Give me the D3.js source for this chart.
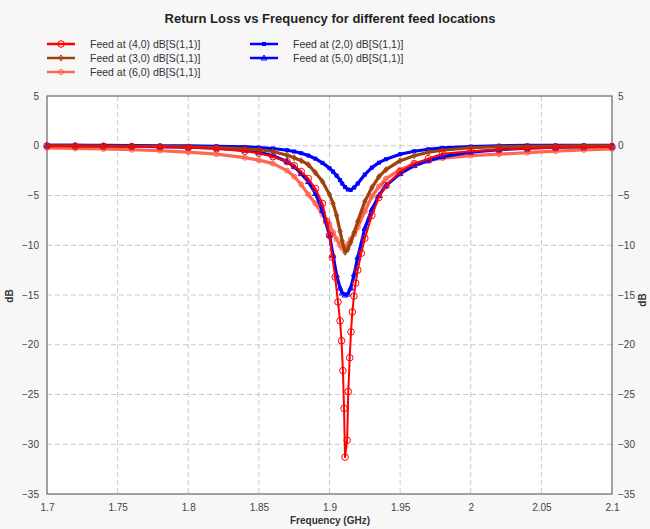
<!DOCTYPE html>
<html>
<head>
<meta charset="utf-8">
<script src="https://cdn.jsdelivr.net/npm/d3@7"></script>
<style>
  body { margin: 0; background: #f7f7f7; font-family: "Liberation Sans", Arial, sans-serif; }
</style>
</head>
<body>
<div id="chart"></div>
<script>
// shared frequency grid (GHz) for the broad curves
var freqGHz = [1.70, 1.72, 1.74, 1.76, 1.78, 1.80, 1.82, 1.84, 1.85, 1.86, 1.87, 1.875, 1.88, 1.885, 1.89, 1.895,
  1.90, 1.9025, 1.905, 1.9075, 1.909, 1.911, 1.913, 1.915, 1.9175, 1.92, 1.925, 1.93, 1.935, 1.94,
  1.95, 1.96, 1.97, 1.98, 2.00, 2.02, 2.04, 2.06, 2.08, 2.10];

var dbFeed20 = [0.05, 0.05, 0.04, 0.02, 0.0, -0.02, -0.05, -0.12, -0.18, -0.28, -0.45, -0.58, -0.75, -0.98, -1.3, -1.72,
  -2.25, -2.6, -3.0, -3.45, -3.8, -4.15, -4.4, -4.45, -4.2, -3.8, -2.9, -2.2, -1.7, -1.35,
  -0.85, -0.55, -0.35, -0.22, -0.08, 0.0, 0.03, 0.04, 0.05, 0.05];

var dbFeed30 = [0.0, -0.02, -0.03, -0.05, -0.08, -0.12, -0.18, -0.3, -0.4, -0.58, -0.95, -1.2, -1.5, -1.9, -2.7, -3.6,
  -4.9, -5.8, -7.0, -8.6, -9.6, -10.7, -10.4, -9.7, -8.7, -7.6, -5.6, -4.2, -3.1, -2.4,
  -1.5, -1.0, -0.65, -0.45, -0.2, -0.1, -0.06, -0.04, -0.02, -0.02];

var dbFeed60 = [-0.22, -0.27, -0.32, -0.4, -0.5, -0.65, -0.85, -1.2, -1.45, -1.8, -2.5, -3.1, -3.9, -4.9, -5.8, -6.9,
  -7.9, -8.7, -9.4, -10.0, -10.3, -10.2, -9.9, -9.4, -8.9, -8.2, -6.6, -5.1, -4.1, -3.3,
  -2.4, -1.8, -1.5, -1.25, -1.0, -0.85, -0.7, -0.55, -0.42, -0.32];

var dbFeed50 = [0.05, 0.03, 0.0, -0.03, -0.08, -0.15, -0.25, -0.45, -0.65, -1.0, -1.6, -2.1, -2.8, -3.6, -4.8, -6.5,
  -9.0, -11.0, -13.0, -14.3, -14.8, -15.0, -14.9, -14.3, -12.9, -11.2, -8.3, -6.4, -5.0, -4.0,
  -2.8, -2.0, -1.5, -1.1, -0.65, -0.4, -0.25, -0.15, -0.1, -0.05];

// feed (4,0) has a very narrow dip, so its own frequency list
var freqFeed40 = [1.70, 1.72, 1.74, 1.76, 1.78, 1.80, 1.82, 1.84, 1.85, 1.86, 1.87, 1.875, 1.88, 1.885, 1.89, 1.895,
  1.898, 1.90, 1.902, 1.904, 1.906, 1.9075, 1.9085, 1.9095, 1.9103, 1.911, 1.9125, 1.9133, 1.9143, 1.9152,
  1.9162, 1.9173, 1.9185, 1.92, 1.9225, 1.925, 1.93, 1.935, 1.94, 1.95, 1.96, 1.97, 1.98, 2.00, 2.02,
  2.04, 2.06, 2.08, 2.10];
var dbFeed40 = [-0.02, -0.04, -0.06, -0.08, -0.12, -0.18, -0.3, -0.55, -0.75, -1.1, -1.6, -2.0, -2.6, -3.3, -4.3, -5.8,
  -7.6, -9.0, -11.2, -13.2, -15.7, -17.6, -19.6, -22.6, -26.4, -31.3, -29.6, -24.7, -21.3, -18.7,
  -16.7, -15.1, -13.8, -12.5, -10.8, -9.3, -7.0, -5.2, -4.0, -2.6, -1.8, -1.3, -0.8, -0.55, -0.4,
  -0.28, -0.2, -0.14, -0.1];

var xTicks = [1.7, 1.75, 1.8, 1.85, 1.9, 1.95, 2, 2.05, 2.1];
var yTicks = [5, 0, -5, -10, -15, -20, -25, -30, -35];

var series = [
  { name: "Feed at (2,0) dB[S(1,1)]", x: freqGHz, y: dbFeed20, color: "#0000ff", marker: "square" },
  { name: "Feed at (6,0) dB[S(1,1)]", x: freqGHz, y: dbFeed60, color: "#ff6650", marker: "circle" },
  { name: "Feed at (5,0) dB[S(1,1)]", x: freqGHz, y: dbFeed50, color: "#0000ff", marker: "triangle" },
  { name: "Feed at (3,0) dB[S(1,1)]", x: freqGHz, y: dbFeed30, color: "#a0400a", marker: "diamond" },
  { name: "Feed at (4,0) dB[S(1,1)]", x: freqFeed40, y: dbFeed40, color: "#ff0000", marker: "bigcircle" }
];

var width = 650, height = 529;
var margin = { top: 96, right: 38, bottom: 35, left: 47 };

var svg = d3.select("#chart").append("svg")
  .attr("width", width)
  .attr("height", height);

var x = d3.scaleLinear().domain([1.7, 2.1]).range([margin.left, width - margin.right]);
var y = d3.scaleLinear().domain([-35, 5]).range([height - margin.bottom, margin.top]);

svg.append("rect")
  .attr("x", x(1.7)).attr("y", y(5))
  .attr("width", x(2.1) - x(1.7)).attr("height", y(-35) - y(5))
  .attr("fill", "#fff");

// dashed grid
svg.append("g").selectAll("line")
  .data(xTicks.slice(1, -1))
  .enter().append("line")
  .attr("x1", function(d) { return x(d); }).attr("x2", function(d) { return x(d); })
  .attr("y1", y(5)).attr("y2", y(-35))
  .attr("stroke", "#c8c8c8").attr("stroke-dasharray", "5,3");
svg.append("g").selectAll("line")
  .data(yTicks.slice(1, -1))
  .enter().append("line")
  .attr("y1", function(d) { return y(d); }).attr("y2", function(d) { return y(d); })
  .attr("x1", x(1.7)).attr("x2", x(2.1))
  .attr("stroke", "#c8c8c8").attr("stroke-dasharray", "5,3");

// axes
var axisFont = function(g) {
  g.select(".domain").remove();
  g.selectAll(".tick line").remove();
  g.selectAll("text").attr("fill", "#444").style("font-size", "10px")
    .style("font-family", "'Liberation Sans', Arial, sans-serif");
};
svg.append("g")
  .attr("transform", "translate(0," + y(-35) + ")")
  .call(d3.axisBottom(x).tickValues(xTicks).tickFormat(d3.format("")).tickSize(0).tickPadding(10))
  .call(axisFont);
svg.append("g")
  .attr("transform", "translate(" + x(1.7) + ",0)")
  .call(d3.axisLeft(y).tickValues(yTicks).tickFormat(d3.format("")).tickSize(0).tickPadding(8))
  .call(axisFont);
svg.append("g")
  .attr("transform", "translate(" + x(2.1) + ",0)")
  .call(d3.axisRight(y).tickValues(yTicks).tickFormat(d3.format("")).tickSize(0).tickPadding(6))
  .call(axisFont);

svg.append("rect")
  .attr("x", x(1.7)).attr("y", y(5))
  .attr("width", x(2.1) - x(1.7)).attr("height", y(-35) - y(5))
  .attr("fill", "none").attr("stroke", "#666").attr("stroke-width", 1.2);

var line = d3.line()
  .x(function(d) { return x(d[0]); })
  .y(function(d) { return y(d[1]); });

function drawMarker(g, type, color) {
  if (type == "square") {
    g.append("rect").attr("x", -2).attr("y", -2).attr("width", 4).attr("height", 4).attr("fill", color);
  } else if (type == "triangle") {
    g.append("path").attr("d", "M0,-3L2.8,2L-2.8,2Z").attr("fill", "none").attr("stroke", color).attr("stroke-width", 1);
  } else if (type == "diamond") {
    g.append("path").attr("d", "M0,-3L2.2,0L0,3L-2.2,0Z").attr("fill", "none").attr("stroke", color).attr("stroke-width", 1);
  } else if (type == "circle") {
    g.append("circle").attr("r", 2.5).attr("fill", "none").attr("stroke", color).attr("stroke-width", 1);
  } else {
    g.append("circle").attr("r", 3.3).attr("fill", "none").attr("stroke", color).attr("stroke-width", 1);
  }
}

series.forEach(function(s) {
  var pts = s.x.map(function(f, i) { return [f, s.y[i]]; });
  var g = svg.append("g");
  g.append("path")
    .datum(pts)
    .attr("d", line)
    .attr("fill", "none")
    .attr("stroke", s.color)
    .attr("stroke-width", s.marker == "bigcircle" ? 2 : 3.2)
    .attr("stroke-linejoin", "round");
  g.selectAll("g.pt")
    .data(pts)
    .enter().append("g")
    .attr("class", "pt")
    .attr("transform", function(d) { return "translate(" + x(d[0]) + "," + y(d[1]) + ")"; })
    .each(function() { drawMarker(d3.select(this), s.marker, s.color); });
});

// title and axis labels
svg.append("text")
  .attr("x", 330).attr("y", 23)
  .attr("text-anchor", "middle")
  .attr("font-weight", "bold")
  .style("font-size", "13px")
  .attr("fill", "#222")
  .text("Return Loss vs Frequency for different feed locations");

svg.append("text")
  .attr("x", 330).attr("y", 524)
  .attr("text-anchor", "middle")
  .attr("font-weight", "bold")
  .style("font-size", "10px")
  .attr("fill", "#333")
  .text("Frequency (GHz)");

svg.append("text")
  .attr("transform", "translate(13,296)rotate(-90)")
  .attr("text-anchor", "middle")
  .attr("font-weight", "bold")
  .style("font-size", "10px")
  .attr("fill", "#333")
  .text("dB");
svg.append("text")
  .attr("transform", "translate(646,300)rotate(-90)")
  .attr("text-anchor", "middle")
  .attr("font-weight", "bold")
  .style("font-size", "10px")
  .attr("fill", "#333")
  .text("dB");

// legend
var legendItems = [
  { s: series[4], lx: 47, ly: 44 },
  { s: series[3], lx: 47, ly: 58 },
  { s: series[1], lx: 47, ly: 72 },
  { s: series[0], lx: 250, ly: 44 },
  { s: series[2], lx: 250, ly: 58 }
];
var legend = svg.selectAll("g.legend")
  .data(legendItems)
  .enter().append("g")
  .attr("class", "legend")
  .attr("transform", function(d) { return "translate(" + d.lx + "," + d.ly + ")"; });
legend.append("line")
  .attr("x1", 0).attr("x2", 28)
  .attr("stroke", function(d) { return d.s.color; })
  .attr("stroke-width", 2.5);
legend.append("g")
  .attr("transform", "translate(14,0)")
  .each(function(d) { drawMarker(d3.select(this), d.s.marker, d.s.color); });
legend.append("text")
  .attr("x", 43).attr("y", 4)
  .style("font-size", "10.5px")
  .attr("fill", "#333")
  .text(function(d) { return d.s.name; });
</script>
</body>
</html>
